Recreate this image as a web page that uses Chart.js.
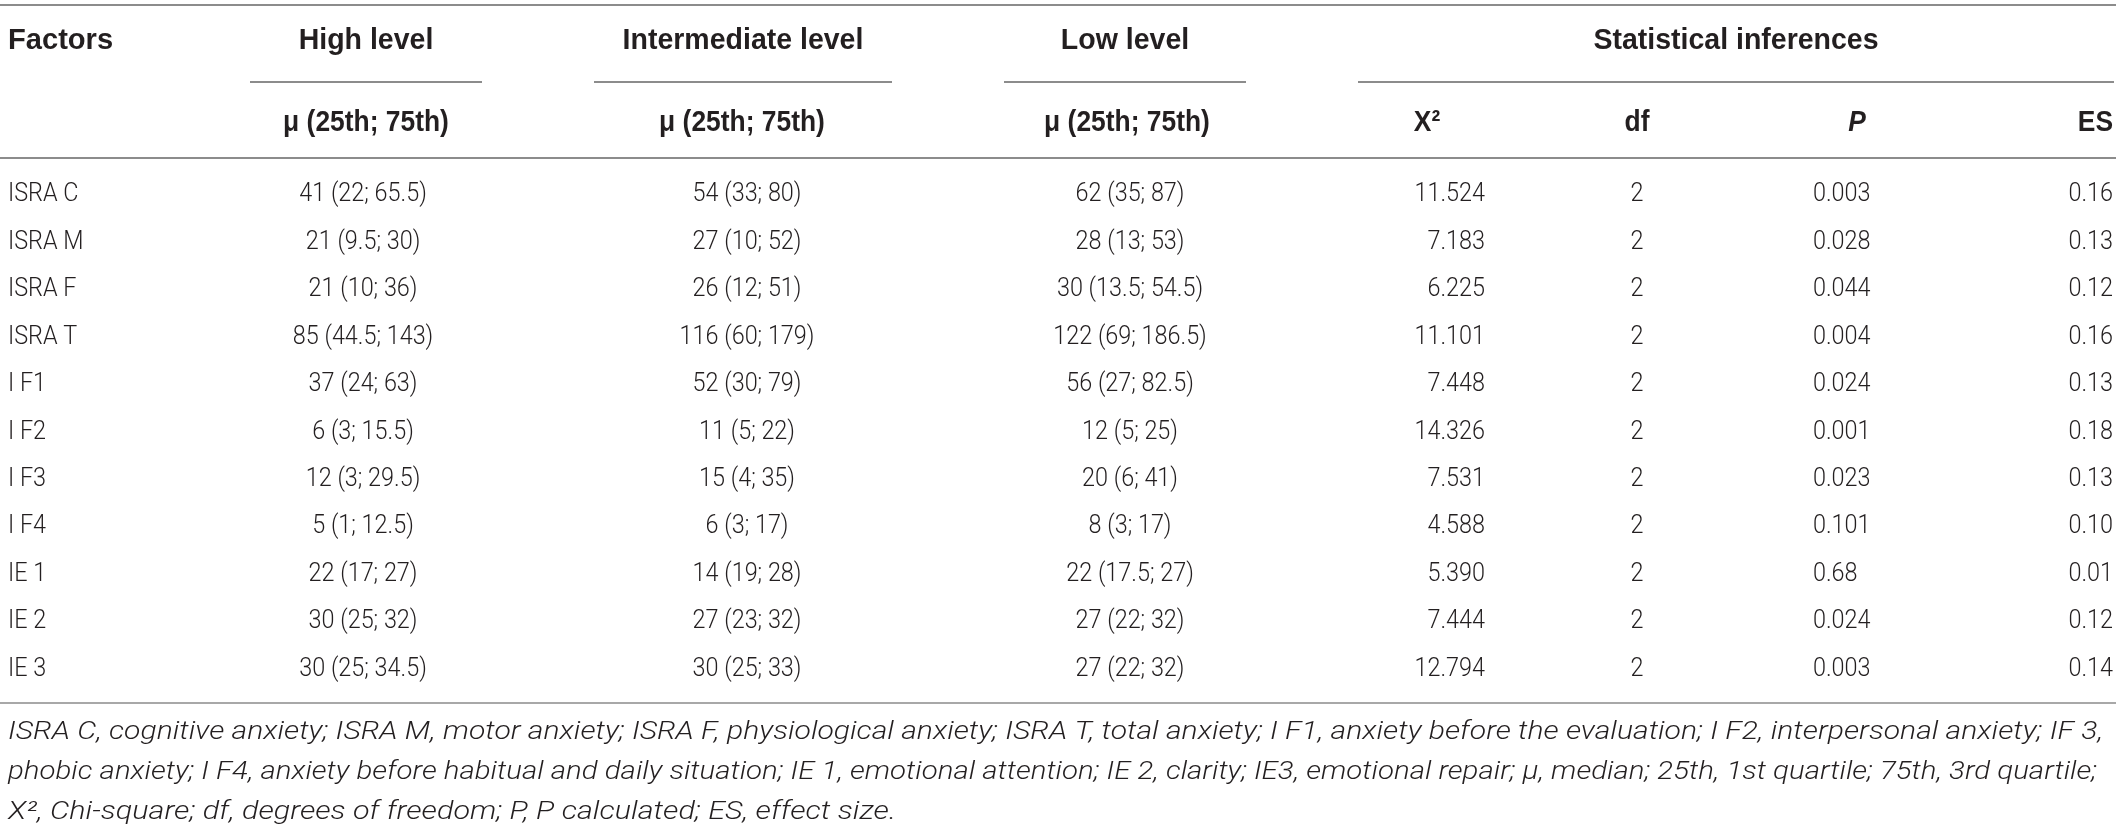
<!DOCTYPE html>
<html lang="en">
<head>
  <meta charset="UTF-8">
  <title>Factors by level</title>
  <script src="https://cdn.jsdelivr.net/npm/chart.js"></script>
  <style>
    html, body { margin: 0; padding: 0; background: #fff; }
    canvas { display: block; }
  </style>
</head>
<body>
  <canvas id="tabla" width="2119" height="826"></canvas>

  <script>
    // table values
    const factors = ['ISRA C', 'ISRA M', 'ISRA F', 'ISRA T', 'I F1', 'I F2', 'I F3', 'I F4', 'IE 1', 'IE 2', 'IE 3'];
    const highLevel = ['41 (22; 65.5)', '21 (9.5; 30)', '21 (10; 36)', '85 (44.5; 143)', '37 (24; 63)', '6 (3; 15.5)',
                       '12 (3; 29.5)', '5 (1; 12.5)', '22 (17; 27)', '30 (25; 32)', '30 (25; 34.5)'];
    const intermediateLevel = ['54 (33; 80)', '27 (10; 52)', '26 (12; 51)', '116 (60; 179)', '52 (30; 79)', '11 (5; 22)',
                               '15 (4; 35)', '6 (3; 17)', '14 (19; 28)', '27 (23; 32)', '30 (25; 33)'];
    const lowLevel = ['62 (35; 87)', '28 (13; 53)', '30 (13.5; 54.5)', '122 (69; 186.5)', '56 (27; 82.5)', '12 (5; 25)',
                      '20 (6; 41)', '8 (3; 17)', '22 (17.5; 27)', '27 (22; 32)', '27 (22; 32)'];
    const chiSquare = ['11.524', '7.183', '6.225', '11.101', '7.448', '14.326', '7.531', '4.588', '5.390', '7.444', '12.794'];
    const degreesFreedom = ['2', '2', '2', '2', '2', '2', '2', '2', '2', '2', '2'];
    const pValues = ['0.003', '0.028', '0.044', '0.004', '0.024', '0.001', '0.023', '0.101', '0.68', '0.024', '0.003'];
    const effectSize = ['0.16', '0.13', '0.12', '0.16', '0.13', '0.18', '0.13', '0.10', '0.01', '0.12', '0.14'];

    const groupHeaders = ['High level', 'Intermediate level', 'Low level', 'Statistical inferences'];
    const subHeaders = ['μ (25th; 75th)', 'μ (25th; 75th)', 'μ (25th; 75th)', 'X²', 'df', 'P', 'ES'];
    const footnotes = [
      'ISRA C, cognitive anxiety; ISRA M, motor anxiety; ISRA F, physiological anxiety; ISRA T, total anxiety; I F1, anxiety before the evaluation; I F2, interpersonal anxiety; IF 3,',
      'phobic anxiety; I F4, anxiety before habitual and daily situation; IE 1, emotional attention; IE 2, clarity; IE3, emotional repair; μ, median; 25th, 1st quartile; 75th, 3rd quartile;',
      'X², Chi-square; df, degrees of freedom; P, P calculated; ES, effect size.'
    ];

    // layout (pixels)
    const W = 2119, H = 826;
    const columns = [
      { values: factors, x: 8, align: 'left' },
      { values: highLevel, x: 363, align: 'center' },
      { values: intermediateLevel, x: 747, align: 'center' },
      { values: lowLevel, x: 1130, align: 'center' },
      { values: chiSquare, x: 1485, align: 'right' },
      { values: degreesFreedom, x: 1637, align: 'center' },
      { values: pValues, x: 1813, align: 'left' },
      { values: effectSize, x: 2113, align: 'right' }
    ];
    const headerX = [{ x: 8, a: 'left' }, { x: 366, a: 'center' }, { x: 742, a: 'center' }, { x: 1127, a: 'center' },
                     { x: 1427, a: 'center' }, { x: 1637, a: 'center' }, { x: 1857, a: 'center' }, { x: 2113, a: 'right' }];
    const groupSpans = [[250, 482], [594, 892], [1004, 1246], [1358, 2114]];
    const footWidths = [2095, 2089, 888];

    const ink = '#231f20';
    const rule = '#8c8c8c';
    const bodyFont = '300 26px Roboto, "Liberation Sans", sans-serif';
    const boldFont = 'bold 30px "Liberation Sans", Arial, sans-serif';
    const footFont = 'italic 300 25px Roboto, "Liberation Sans", sans-serif';

    function texto(ctx, str, x, y, align, font, sx) {
      ctx.save();
      ctx.font = font;
      ctx.fillStyle = ink;
      ctx.textAlign = align;
      ctx.textBaseline = 'middle';
      ctx.translate(x, y);
      ctx.scale(sx, 1);
      ctx.fillText(str, 0, 0);
      ctx.restore();
    }

    function linea(ctx, x1, x2, y, color) {
      ctx.save();
      ctx.strokeStyle = color;
      ctx.lineWidth = 2;
      ctx.beginPath();
      ctx.moveTo(x1, y);
      ctx.lineTo(x2, y);
      ctx.stroke();
      ctx.restore();
    }

    const tablaPlugin = {
      id: 'tabla',
      afterDatasetsDraw(chart) {
        const ctx = chart.ctx;
        const area = chart.chartArea;

        // cells, placed by the scales
        chart.data.datasets.forEach((ds, i) => {
          const meta = chart.getDatasetMeta(i);
          meta.data.forEach((pt, j) => {
            texto(ctx, ds.cellText[j], pt.x, pt.y, ds.cellAlign, bodyFont, 0.9);
          });
        });

        // header
        const hTop = area.top - 130;
        texto(ctx, 'Factors', headerX[0].x, hTop, 'left', boldFont, 0.97);
        groupHeaders.forEach((g, i) => {
          const s = groupSpans[i];
          texto(ctx, g, (s[0] + s[1]) / 2, hTop, 'center', boldFont, 0.95);
          linea(ctx, s[0], s[1], area.top - 89, rule);
        });
        subHeaders.forEach((t, i) => {
          const h = headerX[i + 1];
          const f = t === 'P' ? 'italic ' + boldFont : boldFont;
          texto(ctx, t, h.x, area.top - 48, h.a, f, 0.88);
        });

        linea(ctx, 0, 2116, 5, rule);
        linea(ctx, 0, 2116, area.top - 13, rule);
        linea(ctx, 0, 2116, area.bottom + 10, '#a8a8a8');

        // footnotes, fitted to the printed line widths
        ctx.save();
        ctx.font = footFont;
        footnotes.forEach((line, i) => {
          const w = ctx.measureText(line).width;
          texto(ctx, line, 8, area.bottom + 40 + i * 40, 'left', footFont, footWidths[i] / w);
        });
        ctx.restore();
      }
    };

    const ctx = document.getElementById('tabla').getContext('2d');
    new Chart(ctx, {
      type: 'scatter',
      data: {
        datasets: columns.map(c => ({
          data: factors.map(f => ({ x: c.x, y: f })),
          cellText: c.values,
          cellAlign: c.align,
          pointRadius: 0,
          pointHoverRadius: 0
        }))
      },
      options: {
        responsive: false,
        devicePixelRatio: 1,
        animation: false,
        events: [],
        layout: { padding: { top: 171, bottom: 133, left: 0, right: 0 } },
        plugins: { legend: { display: false }, tooltip: { enabled: false } },
        scales: {
          x: { type: 'linear', min: 0, max: W, display: false },
          y: { type: 'category', labels: factors, offset: true, display: false }
        }
      },
      plugins: [tablaPlugin]
    });
  </script>
</body>
</html>
